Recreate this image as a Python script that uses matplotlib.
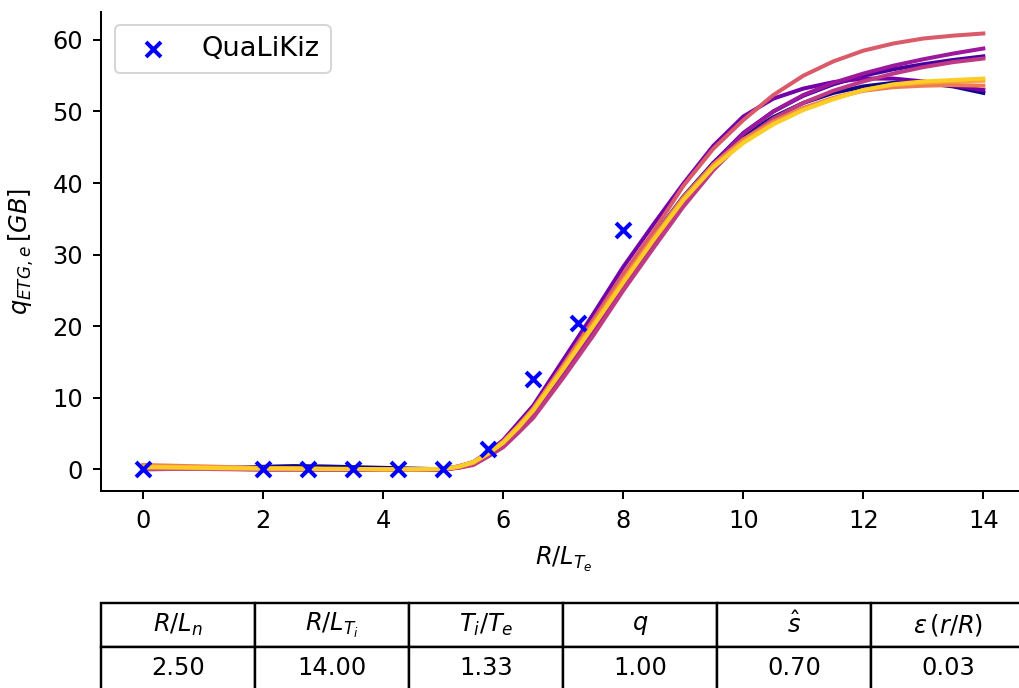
import numpy as np
import matplotlib
matplotlib.use("Agg")
import matplotlib.pyplot as plt

plt.rcParams['font.size'] = 12
plt.rcParams['axes.linewidth'] = 1.0

# QuaLiKiz reference points
qlk_rlte = [0, 2, 2.75, 3.5, 4.25, 5, 5.75, 6.5, 7.25, 8]
qlk_flux = [0, 0, 0, 0, 0, 0, 2.9, 12.6, 20.5, 33.5]

# network predictions in R/L_Te (finer steps around the threshold)
rlte = [0, 0.5, 1, 1.5, 2, 2.5, 3, 3.5, 4, 4.5, 5,
        5.25, 5.5, 5.75, 6, 6.25, 6.5,
        7, 7.5, 8, 8.5, 9, 9.5, 10,
        10.5, 11, 11.5, 12, 12.5, 13, 13.5, 14]

net_0 = [0.0, 0.05, 0.1, 0.2, 0.35, 0.45, 0.4, 0.3, 0.2, 0.1, 0.0,
         0.3, 0.9, 2.2, 3.8, 6.0, 8.4,
         14.4, 20.5, 26.7, 32.5, 38.1, 42.8, 46.5,
         49.2, 51.2, 52.6, 53.5, 54.0, 54.0, 53.5, 52.6]
net_1 = [0.1, 0.1, 0.05, 0.05, 0.0, 0.0, 0.0, 0.0, 0.0, 0.0, 0.0,
         0.25, 0.8, 2.0, 3.5, 5.7, 7.9,
         13.8, 19.9, 26.2, 32.1, 37.8, 42.8, 47.0,
         50.0, 52.2, 53.8, 55.0, 55.9, 56.6, 57.2, 57.7]
net_2 = [0.2, 0.15, 0.1, 0.1, 0.05, 0.05, 0.0, 0.0, 0.0, 0.0, 0.0,
         0.4, 1.0, 2.4, 4.1, 6.5, 8.9,
         15.3, 21.7, 28.3, 34.2, 39.9, 45.2, 49.3,
         51.8, 53.2, 54.1, 54.6, 54.6, 54.2, 53.6, 53.0]
net_3 = [0.1, 0.1, 0.05, 0.05, 0.0, 0.0, 0.0, 0.0, 0.0, 0.0, 0.0,
         0.25, 0.7, 1.9, 3.3, 5.4, 7.6,
         13.4, 19.5, 25.8, 31.7, 37.5, 42.6, 46.9,
         50.0, 52.3, 54.0, 55.3, 56.4, 57.3, 58.1, 58.8]
net_4 = [0.1, 0.05, 0.05, 0.0, 0.0, 0.0, 0.0, 0.0, 0.0, 0.0, 0.0,
         0.2, 0.6, 1.8, 3.1, 5.1, 7.2,
         12.8, 18.7, 25.0, 30.9, 36.7, 41.8, 46.0,
         49.0, 51.2, 52.9, 54.2, 55.3, 56.2, 56.9, 57.4]
net_5 = [0.1, 0.1, 0.05, 0.05, 0.0, 0.0, 0.0, 0.0, 0.0, 0.0, 0.0,
         0.3, 0.9, 2.2, 3.8, 6.0, 8.5,
         14.6, 20.9, 27.3, 33.2, 39.6, 44.8, 48.8,
         52.3, 55.0, 57.0, 58.5, 59.5, 60.2, 60.6, 60.9]
net_6 = [0.6, 0.5, 0.4, 0.3, 0.2, 0.15, 0.1, 0.05, 0.0, 0.0, 0.05,
         0.4, 1.0, 2.3, 3.9, 6.1, 8.5,
         14.4, 20.5, 26.6, 32.4, 38.0, 42.6, 46.1,
         48.6, 50.5, 51.9, 52.9, 53.4, 53.6, 53.7, 53.6]
net_7 = [0.4, 0.35, 0.3, 0.2, 0.15, 0.1, 0.05, 0.05, 0.0, 0.0, 0.05,
         0.35, 0.9, 2.2, 3.8, 6.0, 8.3,
         14.2, 20.2, 26.3, 32.1, 37.7, 42.3, 45.8,
         48.3, 50.3, 51.8, 53.0, 53.7, 54.0, 54.2, 54.3]
net_8 = [0.3, 0.25, 0.2, 0.15, 0.1, 0.1, 0.05, 0.05, 0.0, 0.0, 0.05,
         0.35, 1.0, 2.2, 3.7, 5.8, 8.2,
         14.0, 20.0, 26.1, 32.0, 37.6, 42.2, 45.6,
         48.2, 50.2, 51.7, 53.0, 53.8, 54.2, 54.4, 54.6]
nets = [net_0, net_1, net_2, net_3, net_4, net_5, net_6, net_7, net_8]

# fixed input parameters
par_names = [r'$R/L_n$', r'$R/L_{T_i}$', r'$T_i/T_e$', r'$q$', r'$\hat{s}$',
             r'$\epsilon\,(r/R)$']
par_values = ['2.50', '14.00', '1.33', '1.00', '0.70', '0.03']

dpi = 145
fig = plt.figure(figsize=(1019 / dpi, 688 / dpi), dpi=dpi)
ax = fig.add_axes([0.0994, 0.2862, 0.9068, 0.6968])

colors = plt.get_cmap('plasma')(np.linspace(0, 0.9, len(nets)))
for flux, c in zip(nets, colors):
    ax.plot(rlte, flux, color=c, lw=2)

ax.scatter(qlk_rlte, qlk_flux, marker='x', color='blue', s=55,
           linewidths=2, label='QuaLiKiz', zorder=5)

ax.spines['top'].set_visible(False)
ax.spines['right'].set_visible(False)
ax.tick_params(length=4, width=1.0, pad=5)
ax.set_xlabel(r'$R/L_{T_e}$', labelpad=6)
ax.set_ylabel(r'$q_{ETG,e}\,[GB]$', labelpad=8)
ax.legend(loc='upper left', fontsize=13.5)

tab = ax.table(cellText=[par_names, par_values], cellLoc='center',
               bbox=[0, -0.415, 1, 0.181])
tab.auto_set_font_size(False)
tab.set_fontsize(12)
for cell in tab.get_celld().values():
    cell.set_linewidth(1.2)

fig.savefig('out.png', dpi=dpi)
